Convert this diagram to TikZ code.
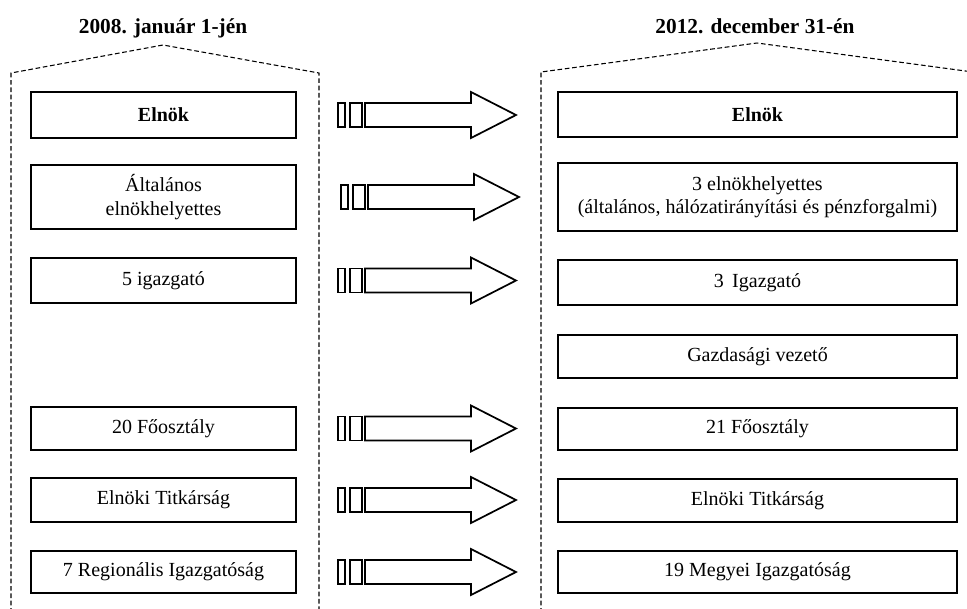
\documentclass[tikz,border=0pt]{standalone}
\usepackage{fontspec}
\setmainfont{Liberation Serif}
\begin{document}
\begin{tikzpicture}[x=0.75pt,y=-0.75pt,
  box/.style={draw,line width=1.7pt,fill=white,inner sep=0pt,align=center,
    font=\fontsize{15}{17.5}\selectfont},
  lbox/.style={box,minimum width=265*0.75pt},
  rbox/.style={box,minimum width=399*0.75pt},
  title/.style={font=\fontsize{16}{19}\selectfont\bfseries},
  frame/.style={dash pattern=on 3.5pt off 2pt,line width=0.8pt},
  barrow/.pic={
    \draw[line width=1.3pt] (0,-12) rectangle (7,12);
    \draw[line width=1.3pt] (12,-12) rectangle (24,12);
    \draw[line width=1.3pt,line join=miter] (27,-12) -- (133,-12) -- (133,-23) -- (178,0)
      -- (133,23) -- (133,12) -- (27,12) -- cycle;
  }]
\useasboundingbox (0,0) rectangle (967,608);
\begin{scope}
\clip (0,0) rectangle (967,608);
% containers
\draw[frame] (11,620) -- (11,73) -- (163,45) -- (319,73) -- (319,620);
\draw[frame] (541,620) -- (541,72) -- (757,43) -- (973,72) -- (973,620);
\end{scope}
% titles
\node[title,anchor=base] (t1) at (163,33) {2008. január 1-jén};
\node[title,anchor=base] (t2) at (755,33) {2012. december 31-én};
% left boxes
\node[lbox,minimum height=46*0.75pt,font=\fontsize{15}{17.5}\selectfont\bfseries] (L1) at (163.5,115) {Elnök};
\node[lbox,minimum height=64*0.75pt] (L2) at (163.5,197) {Általános\\elnökhelyettes};
\node[lbox,minimum height=45*0.75pt] (L3) at (163.5,280.5) {5 igazgató};
\node[lbox,minimum height=43*0.75pt] (L4) at (163.5,428.5) {20 Főosztály};
\node[lbox,minimum height=44*0.75pt] (L5) at (163.5,500) {Elnöki Titkárság};
\node[lbox,minimum height=42*0.75pt] (L6) at (163.5,572) {7 Regionális Igazgatóság};
% right boxes
\node[rbox,minimum height=45*0.75pt,font=\fontsize{15}{17.5}\selectfont\bfseries] (R1) at (757.5,114.5) {Elnök};
\node[rbox,minimum height=68*0.75pt] (R2) at (757.5,197) {3 elnökhelyettes\\(általános, hálózatirányítási és pénzforgalmi)};
\node[rbox,minimum height=45*0.75pt] (R3) at (757.5,282.5) {3\, Igazgató};
\node[rbox,minimum height=43*0.75pt] (R4) at (757.5,356.5) {Gazdasági vezető};
\node[rbox,minimum height=42*0.75pt] (R5) at (757.5,429) {21 Főosztály};
\node[rbox,minimum height=43*0.75pt] (R6) at (757.5,500.5) {Elnöki Titkárság};
\node[rbox,minimum height=42*0.75pt] (R7) at (757.5,572) {19 Megyei Igazgatóság};
% arrows
\pic at (338,0 |- L1) {barrow};
\pic at (341,0 |- L2) {barrow};
\pic at (338,0 |- L3) {barrow};
\pic at (338,0 |- L4) {barrow};
\pic at (338,0 |- L5) {barrow};
\pic at (338,0 |- L6) {barrow};
\end{tikzpicture}
\end{document}
